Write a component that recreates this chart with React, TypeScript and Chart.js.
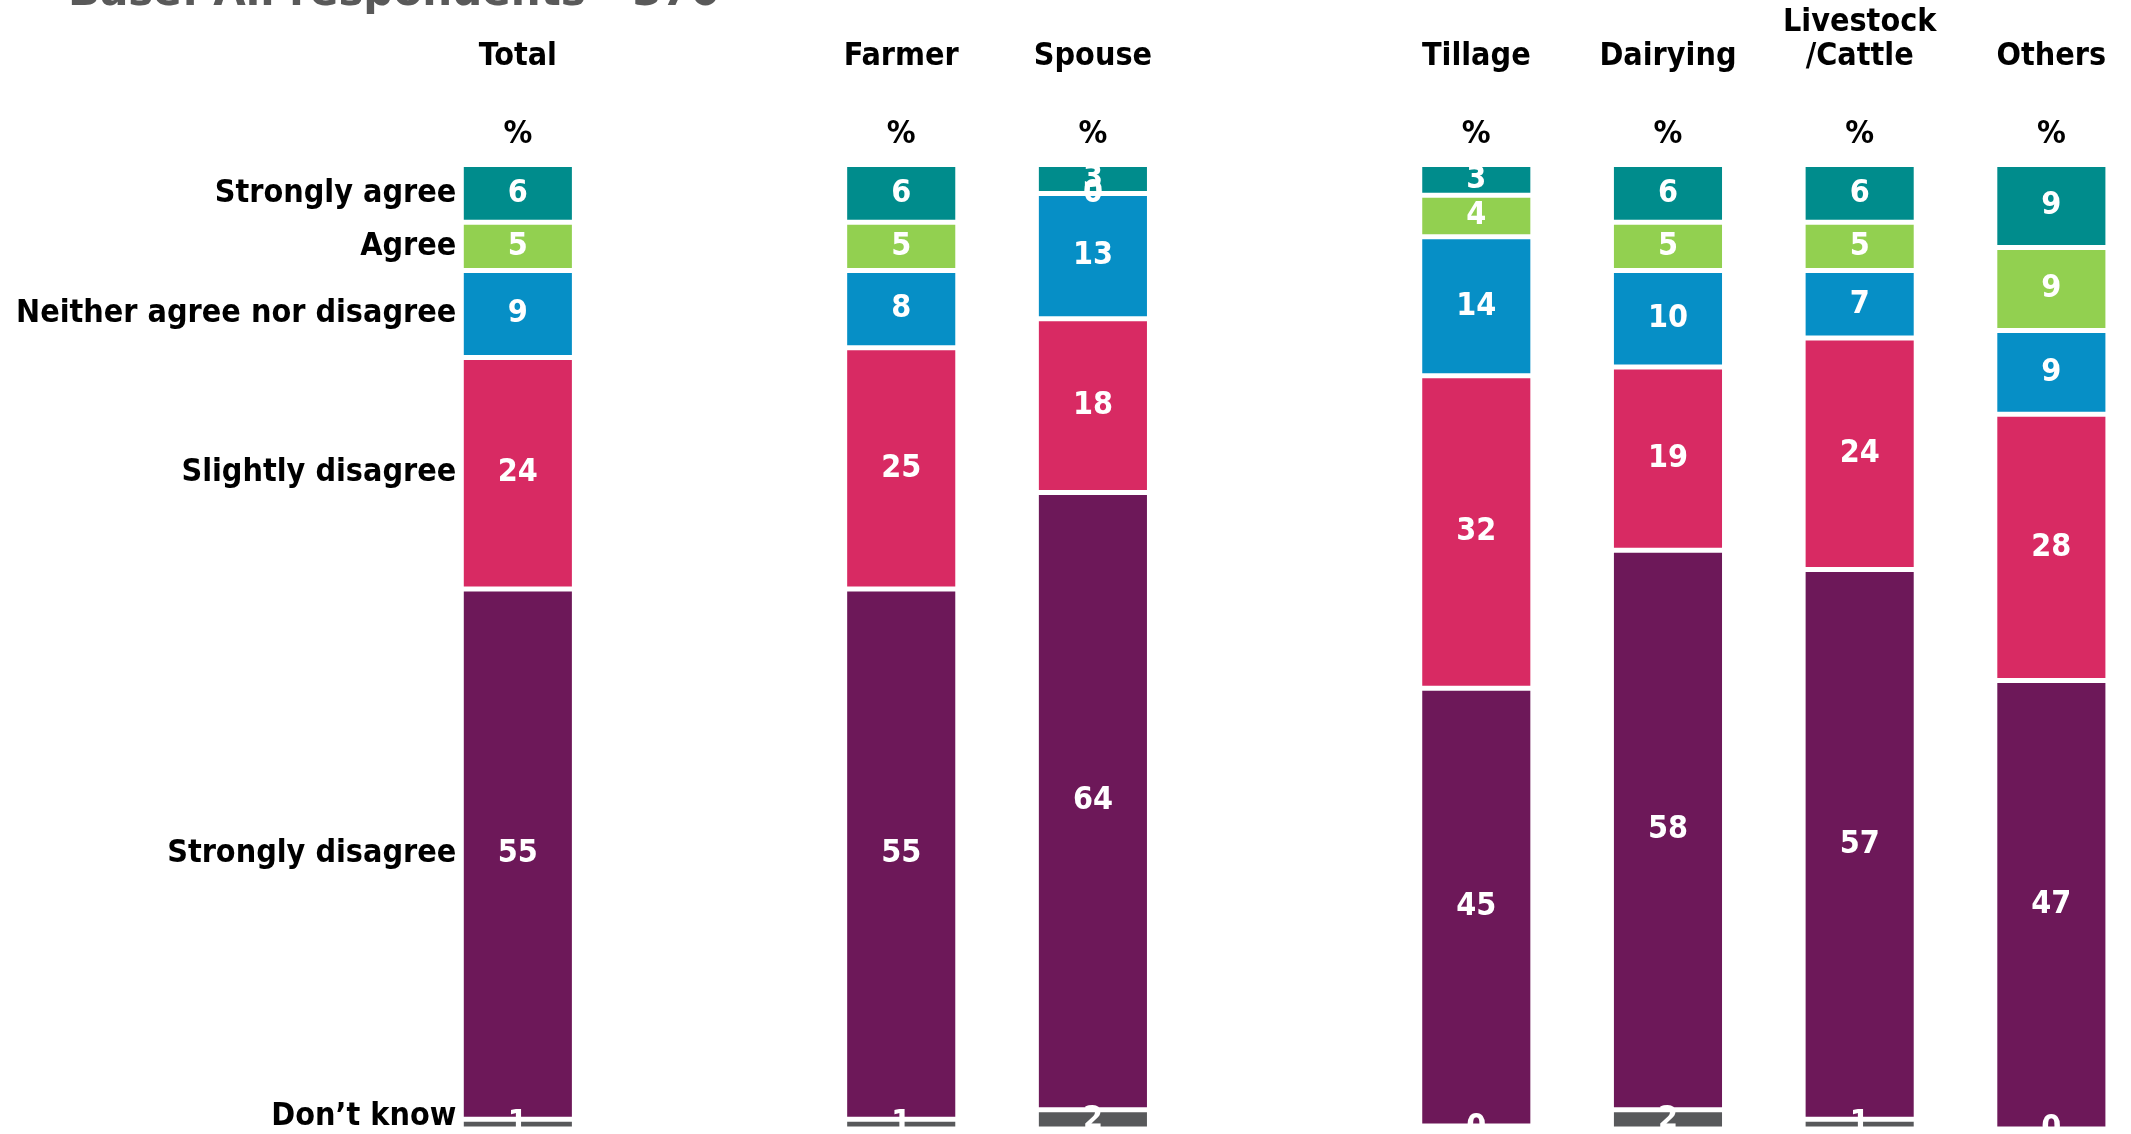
import React, { useEffect, useRef } from "react";
import { Chart, registerables } from "chart.js";

Chart.register(...registerables);

const titleText = "Base: All respondents - 370";
const categories: string[][] = [["Total"], [""], ["Farmer"], ["Spouse"], [""], ["Tillage"], ["Dairying"], ["Livestock", "/Cattle"], ["Others"]];
const unitLabels = ["%", "", "%", "%", "", "%", "%", "%", "%"];
const seriesNames = ["Strongly agree", "Agree", "Neither agree nor disagree", "Slightly disagree", "Strongly disagree", "Don\u2019t know"];

const stronglyAgree = [6, null, 6, 3, null, 3.2, 6, 6, 8.6];
const agree = [5, null, 5, 0, null, 4.3, 5, 5, 8.6];
const neither = [9, null, 8, 13, null, 14.4, 10, 7, 8.7];
const slightlyDisagree = [24, null, 25, 18, null, 32.4, 19, 24, 27.6];
const stronglyDisagree = [55, null, 55, 64, null, 45.4, 58, 57, 46.5];
const dontKnow = [1, null, 1, 2, null, 0.3, 2, 1, 0];

const seriesValues = [stronglyAgree, agree, neither, slightlyDisagree, stronglyDisagree, dontKnow];
const seriesColors = ["#008C8C", "#92D050", "#068FC6", "#D82A63", "#6D1859", "#58595B"];

const FONT = "'DejaVu Sans Condensed', 'DejaVu Sans', sans-serif";
const TITLE_FONT = "'DejaVu Sans', Verdana, sans-serif";
const FS = 32;
const SHIFT = 31; // canvas is shifted up: the slide is cropped at the top

const labelPlugin = {
  id: "customLabels",
  afterDatasetsDraw(chart: any) {
    const ctx = chart.ctx;
    ctx.save();
    // value labels
    ctx.font = `bold ${FS}px ${FONT}`;
    ctx.fillStyle = "#ffffff";
    ctx.textAlign = "center";
    ctx.textBaseline = "middle";
    chart.data.datasets.forEach((ds: any, i: number) => {
      const meta = chart.getDatasetMeta(i);
      meta.data.forEach((bar: any, j: number) => {
        const v = ds.data[j];
        if (v === null || v === undefined) return;
        const p = bar.getProps(["x", "y", "base"], true);
        ctx.fillText(String(Math.round(v)), p.x, (p.y + p.base) / 2);
      });
    });
    // row labels beside the first bar
    ctx.font = `bold ${FS}px ${FONT}`;
    ctx.fillStyle = "#000000";
    ctx.textAlign = "right";
    const bottom = chart.chartArea.bottom;
    chart.data.datasets.forEach((ds: any, i: number) => {
      const bar: any = chart.getDatasetMeta(i).data[0];
      const p = bar.getProps(["x", "y", "base", "width"], true);
      let cy = (p.y + p.base) / 2;
      cy = Math.min(cy, bottom - 12);
      ctx.fillText(ds.label, p.x - p.width / 2 - 5, cy);
    });
    // title (cropped at top of the slide)
    ctx.font = `bold 42px ${TITLE_FONT}`;
    ctx.fillStyle = "#595959";
    ctx.textAlign = "left";
    ctx.textBaseline = "alphabetic";
    ctx.fillText(titleText, 68, SHIFT + 5);
    ctx.restore();
  },
};

export default function App() {
  const ref = useRef<HTMLCanvasElement | null>(null);
  useEffect(() => {
    if (!ref.current) return;
    const chart = new Chart(ref.current, {
      type: "bar",
      data: {
        labels: categories as any,
        datasets: seriesValues.map((vals, i) => ({
          label: seriesNames[i],
          data: vals as any,
          backgroundColor: seriesColors[i],
          borderColor: "#ffffff",
          borderWidth: 2.5,
          borderSkipped: false,
          barPercentage: 0.59,
          categoryPercentage: 1.0,
          xAxisID: "x",
          yAxisID: "y",
        })),
      },
      options: {
        responsive: false,
        animation: false,
        layout: { padding: { left: 422, right: 52.8, top: 6.5, bottom: 5 } },
        plugins: { legend: { display: false }, tooltip: { enabled: false }, title: { display: false } },
        scales: {
          x: {
            type: "category",
            stacked: true,
            position: "top",
            offset: true,
            weight: 2,
            grid: { display: false },
            border: { display: false },
            ticks: {
              color: "#000000",
              font: { family: FONT, size: FS, weight: "bold", lineHeight: 34 / FS },
              padding: 30.5,
              maxRotation: 0,
              autoSkip: false,
            },
          },
          x2: {
            type: "category",
            labels: unitLabels,
            position: "top",
            offset: true,
            weight: 1,
            grid: { display: false },
            border: { display: false },
            ticks: {
              color: "#000000",
              font: { family: FONT, size: FS, weight: "bold", lineHeight: 34 / FS },
              padding: 5,
              maxRotation: 0,
              autoSkip: false,
            },
          },
          y: {
            stacked: true,
            reverse: true,
            min: 0,
            max: 100,
            display: false,
          },
        },
      },
      plugins: [labelPlugin],
    });
    return () => chart.destroy();
  }, []);
  return (
    <div style={{ position: "fixed", left: 0, top: 0, width: 2131, height: 1134, overflow: "hidden", background: "#ffffff" }}>
      <canvas ref={ref} width={2200} height={1134 + SHIFT} style={{ display: "block", position: "absolute", left: 0, top: -SHIFT }} />
    </div>
  );
}
